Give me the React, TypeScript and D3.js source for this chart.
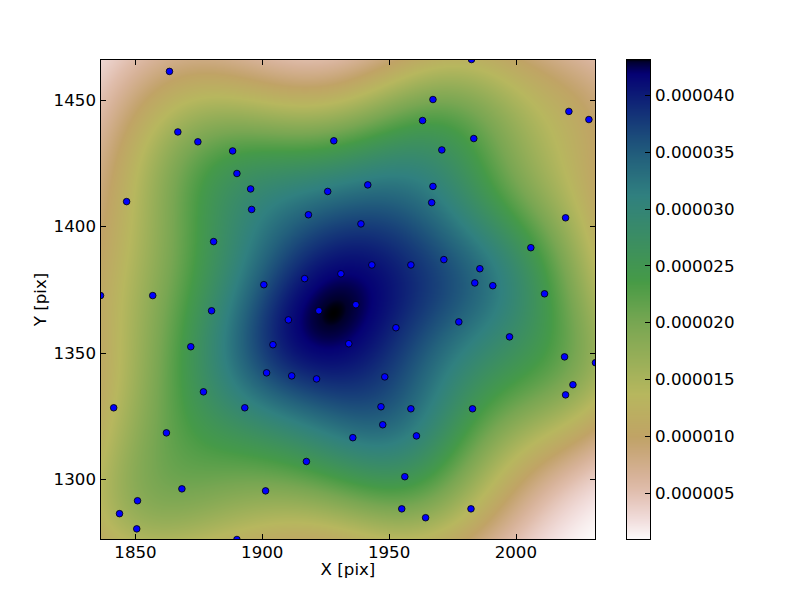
import React, { useMemo } from "react";
import * as d3 from "d3";

// Scatter points (data coordinates, pixels of the detector)
const pointX = [
  1863.4, 1866.7, 1874.6, 1888.3, 1928.2, 1890.0, 1895.4, 1925.8, 1846.5, 1895.8,
  1918.2, 1880.8, 1900.6, 1916.7, 1931.0, 1836.2, 1856.8, 1982.5, 1967.3, 2020.9,
  2028.8, 1963.2, 1983.4, 1970.8, 1941.6, 1967.3, 1966.8, 1938.9, 2019.6, 2005.9,
  1943.2, 1958.6, 1971.6, 1985.8, 1983.8, 1990.9, 2011.3, 1880.0, 1922.3, 1910.3,
  1871.8, 1904.2, 1934.1, 1901.7, 1911.6, 1921.4, 1876.8, 1841.4, 1893.1, 1862.2,
  1917.4, 1868.3, 1901.3, 1850.8, 1843.7, 1850.5, 1890.0, 1936.9, 1952.7, 1977.5,
  1997.5, 2019.2, 2031.4, 1948.3, 2022.5, 2019.6, 1946.8, 1958.6, 1982.9, 1947.5,
  1935.7, 1960.8, 1956.2, 1955.0, 1964.4, 1982.3,
];
const pointY = [
  1461.1, 1437.2, 1433.3, 1429.7, 1433.7, 1420.8, 1414.7, 1413.7, 1409.7, 1406.6,
  1404.5, 1393.9, 1376.9, 1379.3, 1381.2, 1372.6, 1372.6, 1465.8, 1450.0, 1445.3,
  1442.1, 1441.7, 1434.6, 1430.1, 1416.3, 1415.7, 1409.3, 1400.9, 1403.3, 1391.5,
  1384.7, 1384.7, 1386.8, 1383.2, 1377.6, 1376.5, 1373.3, 1366.6, 1366.6, 1363.0,
  1352.4, 1353.2, 1353.6, 1342.1, 1340.9, 1339.7, 1334.6, 1328.3, 1328.3, 1318.4,
  1307.1, 1296.3, 1295.5, 1291.6, 1286.5, 1280.5, 1276.3, 1369.0, 1359.9, 1362.2,
  1356.3, 1348.4, 1346.1, 1340.5, 1337.4, 1333.4, 1328.7, 1327.9, 1327.9, 1321.6,
  1316.5, 1317.2, 1301.1, 1288.4, 1284.9, 1288.4,
];

const xTicks = [1850, 1900, 1950, 2000];
const yTicks = [1300, 1350, 1400, 1450];
const cbTicks = [0.000005, 0.00001, 0.000015, 0.00002, 0.000025, 0.00003, 0.000035, 0.00004];

// gist_earth colormap segment data
const GE_R: number[][] = [
  [0.0, 0.0], [0.2824, 0.1882], [0.4588, 0.2714], [0.549, 0.4719],
  [0.698, 0.7176], [0.7882, 0.7553], [1.0, 0.9922],
];
const GE_G: number[][] = [
  [0.0, 0.0], [0.0275, 0.0], [0.1098, 0.1893], [0.1647, 0.3035], [0.2078, 0.3841],
  [0.2824, 0.502], [0.5216, 0.6397], [0.698, 0.7171], [0.7882, 0.6392], [0.7922, 0.6413],
  [0.8, 0.6447], [0.8078, 0.6481], [0.8157, 0.6549], [0.8667, 0.6991], [0.8745, 0.7103],
  [0.8824, 0.7216], [0.8902, 0.7323], [0.898, 0.743], [0.9412, 0.8275], [0.9569, 0.8635],
  [0.9647, 0.8816], [0.9961, 0.9733], [1.0, 0.9843],
];
const GE_B: number[][] = [
  [0.0, 0.0], [0.0039, 0.1684], [0.0078, 0.2212], [0.0275, 0.4329], [0.0314, 0.4549],
  [0.2824, 0.5004], [0.4667, 0.2748], [0.5451, 0.3205], [0.7843, 0.3961],
  [0.8941, 0.6651], [1.0, 0.9843],
];

function seg(s: number[][], t: number) {
  if (t <= s[0][0]) return s[0][1];
  for (let i = 1; i < s.length; i++) {
    if (t <= s[i][0]) {
      const a = s[i - 1], b = s[i];
      return a[1] + ((t - a[0]) / (b[0] - a[0])) * (b[1] - a[1]);
    }
  }
  return s[s.length - 1][1];
}
function gistEarthR(v: number): [number, number, number] {
  const t = 1 - Math.max(0, Math.min(1, v));
  return [seg(GE_R, t) * 255, seg(GE_G, t) * 255, seg(GE_B, t) * 255];
}

const X0 = 100.5, X1 = 595.5, Y0 = 59.5, Y1 = 539.5;
const CB0 = 626.5, CB1 = 650.5;
const FONT = "'DejaVu Sans', Verdana, sans-serif";
const FS = 16.67;
const TICK = 5.5;

export default function App() {
  const xScale = d3.scaleLinear().domain(d3.extent(pointX) as [number, number]).range([X0, X1]);
  const yScale = d3.scaleLinear().domain(d3.extent(pointY) as [number, number]).range([Y1, Y0]);

  const res = useMemo(() => {
    const n = pointX.length;
    const mx = d3.mean(pointX)!, my = d3.mean(pointY)!;
    let sxx = 0, syy = 0, sxy = 0;
    for (let i = 0; i < n; i++) {
      const dx = pointX[i] - mx, dy = pointY[i] - my;
      sxx += dx * dx; syy += dy * dy; sxy += dx * dy;
    }
    const f2 = Math.pow(n, -1 / 3);
    const cxx = (sxx / (n - 1)) * f2, cyy = (syy / (n - 1)) * f2, cxy = (sxy / (n - 1)) * f2;
    const det = cxx * cyy - cxy * cxy;
    const ixx = cyy / det, iyy = cxx / det, ixy = -cxy / det;
    const norm = 1 / (n * 2 * Math.PI * Math.sqrt(det));

    const gw = 496, gh = 481;
    const vals = new Float64Array(gw * gh);
    let vmin = Infinity, vmax = -Infinity;
    for (let j = 0; j < gh; j++) {
      const y = yScale.invert(59 + j + 0.5);
      for (let i = 0; i < gw; i++) {
        const x = xScale.invert(100 + i + 0.5);
        let s = 0;
        for (let k = 0; k < n; k++) {
          const dx = x - pointX[k], dy = y - pointY[k];
          s += Math.exp(-0.5 * (ixx * dx * dx + 2 * ixy * dx * dy + iyy * dy * dy));
        }
        const v = s * norm;
        vals[j * gw + i] = v;
        if (v < vmin) vmin = v;
        if (v > vmax) vmax = v;
      }
    }
    const canvas = document.createElement("canvas");
    canvas.width = gw; canvas.height = gh;
    const ctx = canvas.getContext("2d")!;
    const img = ctx.createImageData(gw, gh);
    for (let p = 0; p < gw * gh; p++) {
      const c = gistEarthR((vals[p] - vmin) / (vmax - vmin));
      img.data[p * 4] = c[0]; img.data[p * 4 + 1] = c[1]; img.data[p * 4 + 2] = c[2]; img.data[p * 4 + 3] = 255;
    }
    ctx.putImageData(img, 0, 0);
    const heat = canvas.toDataURL();

    const cb = document.createElement("canvas");
    cb.width = 1; cb.height = 480;
    const cctx = cb.getContext("2d")!;
    const cimg = cctx.createImageData(1, 480);
    for (let k = 0; k < 480; k++) {
      const c = gistEarthR(1 - (k + 0.5) / 480);
      cimg.data[k * 4] = c[0]; cimg.data[k * 4 + 1] = c[1]; cimg.data[k * 4 + 2] = c[2]; cimg.data[k * 4 + 3] = 255;
    }
    cctx.putImageData(cimg, 0, 0);
    return { heat, cbar: cb.toDataURL(), vmin, vmax };
  }, []);

  const cScale = d3.scaleLinear().domain([res.vmin, res.vmax]).range([Y1, Y0]);
  const fmt = d3.format(".6f");

  return (
    <svg width={800} height={600} style={{ display: "block", background: "#fff", position: "absolute", left: 0, top: 0 }} fontFamily={FONT}>
      <defs>
        <clipPath id="plotclip">
          <rect x={X0} y={Y0} width={X1 - X0} height={Y1 - Y0} />
        </clipPath>
      </defs>
      <rect x={0} y={0} width={800} height={600} fill="#fff" />
      <image href={res.heat} x={100} y={59} width={496} height={481} preserveAspectRatio="none" />
      <g clipPath="url(#plotclip)">
        {pointX.map((x, i) => (
          <circle key={i} cx={xScale(x)} cy={yScale(pointY[i])} r={3.3} fill="#0000ff" stroke="#000" strokeWidth={0.8} />
        ))}
      </g>
      {/* ticks */}
      <g stroke="#000" strokeWidth={1}>
        {xTicks.map((t) => {
          const x = Math.round(xScale(t)) + 0.5;
          return (
            <g key={t}>
              <line x1={x} x2={x} y1={Y1} y2={Y1 - TICK} />
              <line x1={x} x2={x} y1={Y0} y2={Y0 + TICK} />
            </g>
          );
        })}
        {yTicks.map((t) => {
          const y = Math.round(yScale(t)) + 0.5;
          return (
            <g key={t}>
              <line x1={X0} x2={X0 + TICK} y1={y} y2={y} />
              <line x1={X1} x2={X1 - TICK} y1={y} y2={y} />
            </g>
          );
        })}
      </g>
      <rect x={X0} y={Y0} width={X1 - X0} height={Y1 - Y0} fill="none" stroke="#000" strokeWidth={1} />
      {xTicks.map((t) => (
        <text key={t} x={xScale(t)} y={558} textAnchor="middle" fontSize={FS} fill="#000">{t}</text>
      ))}
      {yTicks.map((t) => (
        <text key={t} x={96} y={yScale(t)} dy="0.36em" textAnchor="end" fontSize={FS} fill="#000">{t}</text>
      ))}
      <text x={(X0 + X1) / 2} y={575} textAnchor="middle" fontSize={FS} fill="#000">X [pix]</text>
      <text transform={`translate(45.5,${(Y0 + Y1) / 2}) rotate(-90)`} textAnchor="middle" fontSize={FS} fill="#000">Y [pix]</text>

      {/* colorbar */}
      <image href={res.cbar} x={CB0} y={Y0} width={CB1 - CB0} height={Y1 - Y0} preserveAspectRatio="none" />
      <g stroke="#000" strokeWidth={1}>
        {cbTicks.map((t) => {
          const y = Math.round(cScale(t)) + 0.5;
          return <line key={t} x1={CB1 - TICK} x2={CB1} y1={y} y2={y} />;
        })}
      </g>
      <rect x={CB0} y={Y0} width={CB1 - CB0} height={Y1 - Y0} fill="none" stroke="#000" strokeWidth={1} />
      {cbTicks.map((t) => (
        <text key={t} x={655} y={cScale(t)} dy="0.36em" fontSize={FS} fill="#000">{fmt(t)}</text>
      ))}
    </svg>
  );
}
